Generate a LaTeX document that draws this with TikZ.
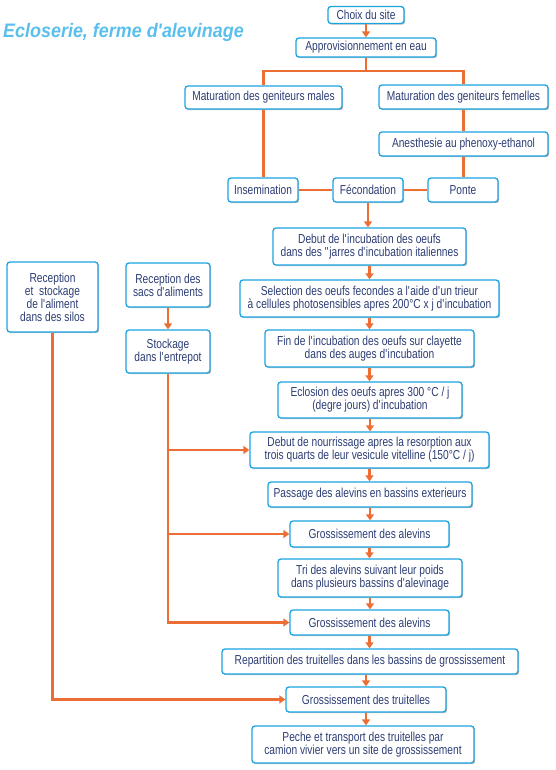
\documentclass[tikz,border=0pt]{standalone}
\usepackage{fontspec}
\setmainfont[FakeStretch=0.785]{Liberation Sans}
\newfontfamily\titlefont[FakeStretch=0.92]{Liberation Sans}
\usetikzlibrary{arrows.meta,shadows,calc}
\definecolor{boxblue}{HTML}{1AA3DF}
\definecolor{txtnavy}{HTML}{2D3E75}
\definecolor{arrorange}{HTML}{EC6E35}
\definecolor{titleblue}{HTML}{5ABFEC}
\newcommand\apo{\textquotesingle}
\tikzset{
  box/.style={draw=boxblue, line width=1.3pt, rounded corners=3pt, fill=white,
    text=txtnavy, align=center, inner sep=1pt,
    font=\fontsize{13}{13}\selectfont,
    drop shadow={shadow xshift=1.2pt, shadow yshift=-1.2pt, opacity=0.25, fill=black}},
  link/.style={draw=arrorange, line width=2.2pt},
  arr/.style={link, -{Triangle[width=8pt,length=6pt]}},
}
\begin{document}
\begin{tikzpicture}[x=1pt,y=-1pt]
\useasboundingbox (0,0) rectangle (556,770);
\node[anchor=base west, inner sep=0pt, text=titleblue, font=\titlefont\bfseries\itshape\fontsize{19.5}{21}\selectfont] (title) at (3,37.5) {Ecloserie, ferme d'alevinage};

\node[box, minimum width=76pt, minimum height=17pt] (choix) at (366,15) {Choix du site};
\node[box, minimum width=140pt, minimum height=19pt] (appro) at (366,47.5) {Approvisionnement en eau};
\node[box, minimum width=157pt, minimum height=23pt] (males) at (263.5,97.5) {Maturation des geniteurs males};
\node[box, minimum width=169pt, minimum height=24pt] (femelles) at (463.5,97) {Maturation des geniteurs femelles};
\node[box, minimum width=169pt, minimum height=24pt] (anest) at (463.5,144) {Anesthesie au phenoxy-ethanol};
\node[box, minimum width=70pt, minimum height=24pt] (insem) at (263,190) {Insemination};
\node[box, minimum width=70pt, minimum height=24pt] (fecond) at (368,190) {Fécondation};
\node[box, minimum width=70pt, minimum height=24pt] (ponte) at (463,190) {Ponte};
\node[box, minimum width=193pt, minimum height=37pt] (debinc) at (369.5,246.5) {Debut de l\apo incubation des oeufs\\dans des \textquotedbl jarres d\apo incubation italiennes};
\node[box, minimum width=259pt, minimum height=37pt] (select) at (369.5,298.5) {Selection des oeufs fecondes a l\apo aide d\apo un trieur\\à cellules photosensibles apres 200°C x j d\apo incubation};
\node[box, minimum width=209pt, minimum height=37pt] (fin) at (369.5,348.5) {Fin de l\apo incubation des oeufs sur clayette\\dans des auges d\apo incubation};
\node[box, minimum width=184pt, minimum height=36pt] (eclos) at (370,400) {Eclosion des oeufs apres 300 °C / j\\(degre jours) d\apo incubation};
\node[box, minimum width=239pt, minimum height=36pt] (nourr) at (369.5,450) {Debut de nourrissage apres la resorption aux\\trois quarts de leur vesicule vitelline (150°C / j)};
\node[box, minimum width=204pt, minimum height=25pt] (passage) at (370,494.5) {Passage des alevins en bassins exterieurs};
\node[box, minimum width=159pt, minimum height=26pt] (gross1) at (369.5,534) {Grossissement des alevins};
\node[box, minimum width=184pt, minimum height=38pt] (tri) at (370,578) {Tri des alevins suivant leur poids\\dans plusieurs bassins d\apo alevinage};
\node[box, minimum width=159pt, minimum height=25pt] (gross2) at (369.5,622.5) {Grossissement des alevins};
\node[box, minimum width=296pt, minimum height=25pt] (repart) at (370,661.5) {Repartition des truitelles dans les bassins de grossissement};
\node[box, minimum width=160pt, minimum height=25pt] (truit) at (366,699.5) {Grossissement des truitelles};
\node[box, minimum width=222pt, minimum height=37pt] (peche) at (363,744.5) {Peche et transport des truitelles par\\camion vivier vers un site de grossissement};

\node[box, minimum width=91pt, minimum height=70pt] (silos) at (52.5,297) {Reception\\et~ stockage\\de l\apo aliment\\dans des silos};
\node[box, minimum width=84pt, minimum height=44pt] (sacs) at (168,285) {Reception des\\sacs d\apo aliments};
\node[box, minimum width=84pt, minimum height=43pt] (stock) at (168,351.5) {Stockage\\dans l\apo entrepot};

% top part
\draw[arr] (choix) -- (appro);
\coordinate (br) at ($(appro.south)+(0,13)$);
\draw[link] (appro.south) -- (br);
\draw[link] (males.north) |- (br) -| (femelles.north);
\draw[link] (males.south) -- (males.south |- insem.north);
\draw[link] (femelles.south) -- (anest.north);
\draw[link] (anest.south) -- (anest.south |- ponte.north);
\draw[link] (insem.east) -- (fecond.west);
\draw[link] (ponte.west) -- (fecond.east);

% main chain
\draw[arr] (fecond.south) -- (fecond.south |- debinc.north);
\draw[arr] (debinc.south) -- (debinc.south |- select.north);
\draw[arr] (select.south) -- (select.south |- fin.north);
\draw[arr] (fin.south) -- (fin.south |- eclos.north);
\draw[arr] (eclos.south) -- (eclos.south |- nourr.north);
\draw[arr] (nourr.south) -- (nourr.south |- passage.north);
\draw[arr] (passage.south) -- (passage.south |- gross1.north);
\draw[arr] (gross1.south) -- (gross1.south |- tri.north);
\draw[arr] (tri.south) -- (tri.south |- gross2.north);
\draw[arr] (gross2.south) -- (gross2.south |- repart.north);
\draw[arr] (truit.north |- repart.south) -- (truit.north);
\draw[arr] (truit.south) -- (truit.south |- peche.north);

% feed lines
\draw[arr] (sacs.south) -- (stock.north);
\draw[arr] (stock.south) -- (stock.south |- gross2.west) -- (gross2.west);
\draw[arr] (stock.south |- nourr.west) -- (nourr.west);
\draw[arr] (stock.south |- gross1.west) -- (gross1.west);
\draw[arr] (silos.south) |- (truit.west);
\end{tikzpicture}
\end{document}
